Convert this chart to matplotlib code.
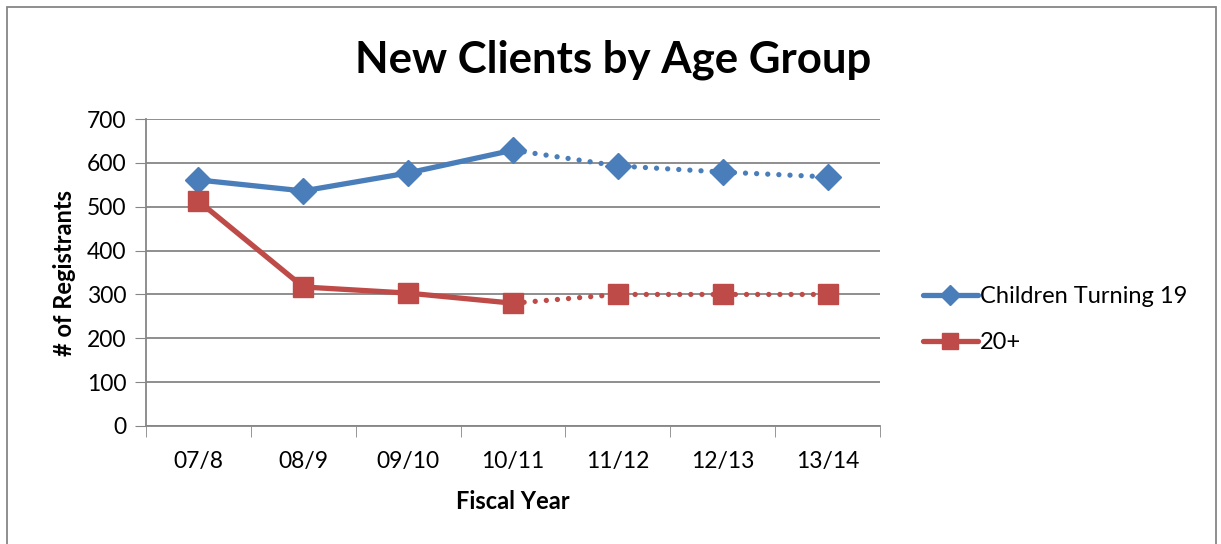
import matplotlib.pyplot as plt
from matplotlib.patches import Rectangle

years = ["07/8", "08/9", "09/10", "10/11", "11/12", "12/13", "13/14"]
children = [561, 536, 577, 629, 593, 579, 568]
adults = [513, 317, 303, 280, 300, 300, 300]
split = 3  # last actual year; projections after this are dotted

blue = "#4a7ebb"
red = "#be4b48"
grid = "#868686"

plt.rcParams['font.family'] = ['Lato', 'DejaVu Sans']

fig = plt.figure(figsize=(12.21, 5.44), dpi=100)
ax = fig.add_axes([146 / 1221, 1 - 426 / 544, 734 / 1221, 307 / 544])

x = list(range(len(years)))
for vals, col, mk, ms, lab in [(children, blue, "D", 13, "Children Turning 19"),
                               (adults, red, "s", 14.5, "20+")]:
    ax.plot(x[:split + 1], vals[:split + 1], color=col, lw=3.8, solid_capstyle="round")
    ax.plot(x[split:], vals[split:], color=col, lw=3.8, linestyle=(0, (0.01, 2.1)),
            dash_capstyle="round")
    ax.plot(x, vals, color=col, lw=0, marker=mk, ms=ms, zorder=5)
    ax.plot([], [], color=col, lw=3.8, marker=mk, ms=ms * 0.75, label=lab,
            solid_capstyle="round")

ax.set_xlim(-0.5, 6.5)
ax.set_ylim(0, 700)
ax.set_yticks(range(0, 701, 100))
ax.set_xticks(x)
ax.set_xticklabels(years)
ax.set_xticks([i - 0.5 for i in range(8)], minor=True)
ax.tick_params(axis="x", which="major", length=0, pad=18, labelsize=16.5)
ax.tick_params(axis="x", which="minor", length=8, color=grid, direction="out")
ax.tick_params(axis="y", length=8, color=grid, labelsize=16.5, pad=6)
ax.yaxis.grid(True, color=grid, lw=1.3)
ax.set_axisbelow(True)
for s in ["top", "right"]:
    ax.spines[s].set_visible(False)
for s in ["left", "bottom"]:
    ax.spines[s].set_color(grid)
    ax.spines[s].set_linewidth(1.3)

ax.set_xlabel("Fiscal Year", fontsize=17, fontweight="bold", labelpad=13)
ax.set_ylabel("# of Registrants", fontsize=17, fontweight="bold", labelpad=8)
fig.text(613 / 1221, 1 - 60 / 544, "New Clients by Age Group", fontsize=31.5,
         fontweight="bold", ha="center", va="center")

ax.legend(loc="center left", bbox_to_anchor=(1.03, 0.347), frameon=False,
          fontsize=17, handlelength=2.3, handletextpad=0.1, labelspacing=1.05)

fig.patches.append(Rectangle((7 / 1221, -0.05), 1209 / 1221, 1.05 - 7 / 544,
                             transform=fig.transFigure, fill=False,
                             edgecolor=grid, lw=1.3))

fig.savefig("out.png", dpi=100, facecolor="white")
